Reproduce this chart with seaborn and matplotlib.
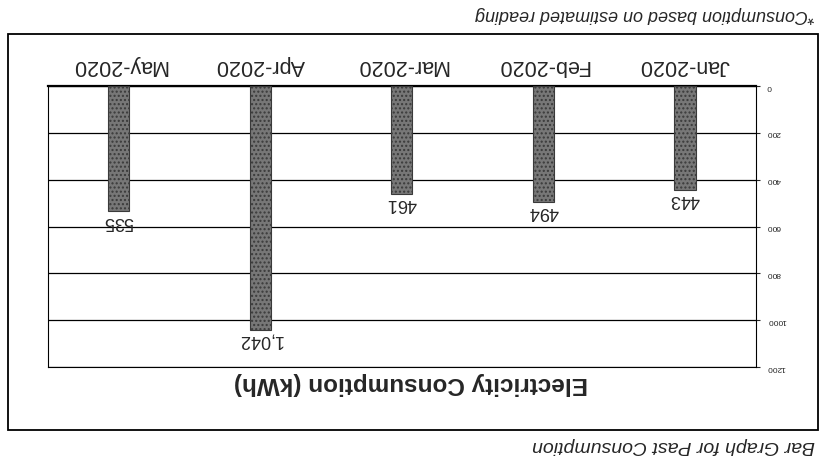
import numpy as np
import pandas as pd
import seaborn as sns
import matplotlib.pyplot as plt
from matplotlib.patches import Rectangle

# Monthly consumption (kWh)
months = ['Jan-2020', 'Feb-2020', 'Mar-2020', 'Apr-2020', 'May-2020']
kwh = [443, 494, 461, 1042, 535]
yticks = [0, 200, 400, 600, 800, 1000, 1200]

df = pd.DataFrame({'month': months, 'kwh': kwh})

sns.set_style('white')
plt.rcParams['font.family'] = ['Liberation Sans', 'DejaVu Sans']

fig = plt.figure(figsize=(8.22, 4.59), dpi=100)
ax = fig.add_axes([0.0584, 0.2004, 0.861, 0.6122])

sns.barplot(data=df, x='month', y='kwh', order=months, width=0.15,
            color='#777777', edgecolor='#3a3a3a', linewidth=0.8,
            hatch='....', ax=ax, zorder=3)

# the scanned page is upside down, so flip everything
ax.set_ylim(1200, 0)
ax.invert_xaxis()
ax.set_yticks(yticks)
ax.yaxis.tick_right()
ax.xaxis.tick_top()
ax.grid(axis='y', color='black', linewidth=0.9, zorder=0)
ax.tick_params(axis='x', length=0, pad=7, labelsize=15.5, labelrotation=180)
ax.tick_params(axis='y', length=3, direction='out', right=True, pad=5,
               labelsize=6, labelrotation=180)
for lab in ax.get_yticklabels():
    lab.set_ha('left')
    lab.set_va('center')
ax.set_xlabel('')
ax.set_ylabel('')
for side in ax.spines:
    ax.spines[side].set_color('black')
    ax.spines[side].set_linewidth(0.8)
ax.spines['top'].set_linewidth(1.6)

ax.bar_label(ax.containers[0], labels=[f'{v:,}' for v in kwh],
             rotation=180, padding=1, fontsize=13)

fig.text(0.50, 1 - 383 / 459, 'Electricity Consumption (kWh)', rotation=180,
         ha='center', va='center', fontsize=17.5, fontweight='bold')
fig.text(0.992, 1 - 14 / 459, '*Consumption based on estimated reading',
         rotation=180, ha='right', va='center', fontsize=13, style='italic')
fig.text(0.992, 1 - 445 / 459, 'Bar Graph for Past Consumption',
         rotation=180, ha='right', va='center', fontsize=14, style='italic')

fig.add_artist(Rectangle((8 / 822, 1 - 430 / 459), 810 / 822, 396 / 459,
                         transform=fig.transFigure, fill=False,
                         edgecolor='black', linewidth=1.3))

fig.savefig('out.png', dpi=100)
